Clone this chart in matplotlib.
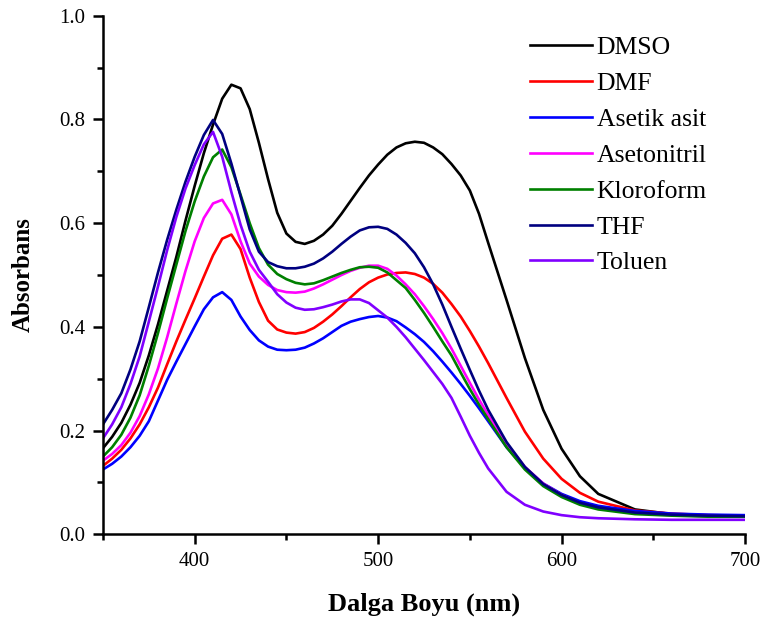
import matplotlib
matplotlib.use('Agg')
import matplotlib.pyplot as plt
from matplotlib.ticker import MultipleLocator, FormatStrFormatter

# Dalga boyu (nm)
dalga_boyu = [350, 355, 360, 365, 370, 375, 380, 385, 390, 395, 400, 405, 410, 415, 420, 425,
              430, 435, 440, 445, 450, 455, 460, 465, 470, 475, 480, 485, 490, 495, 500, 505,
              510, 515, 520, 525, 530, 535, 540, 545, 550, 555, 560, 570, 580, 590, 600, 610,
              620, 640, 660, 680, 700]

# Absorbans degerleri
dmso = [0.166, 0.188, 0.215, 0.250, 0.292, 0.345, 0.405, 0.470, 0.535, 0.605, 0.672, 0.735, 0.790,
        0.840, 0.867, 0.860, 0.820, 0.755, 0.685, 0.620, 0.580, 0.564, 0.560, 0.566, 0.578, 0.595,
        0.618, 0.643, 0.668, 0.692, 0.713, 0.732, 0.746, 0.754, 0.757, 0.755, 0.746, 0.733, 0.714,
        0.692, 0.663, 0.618, 0.562, 0.452, 0.340, 0.240, 0.165, 0.112, 0.078, 0.048, 0.039, 0.036,
        0.035]
dmf = [0.132, 0.146, 0.163, 0.185, 0.212, 0.245, 0.283, 0.328, 0.372, 0.414, 0.455, 0.497, 0.538,
       0.570, 0.578, 0.550, 0.495, 0.448, 0.412, 0.395, 0.389, 0.387, 0.390, 0.398, 0.410, 0.424,
       0.440, 0.457, 0.473, 0.486, 0.495, 0.501, 0.504, 0.505, 0.502, 0.495, 0.483, 0.466, 0.444,
       0.420, 0.392, 0.362, 0.330, 0.263, 0.198, 0.146, 0.107, 0.080, 0.063, 0.046, 0.040, 0.037,
       0.036]
asetik_asit = [0.125, 0.136, 0.150, 0.168, 0.190, 0.218, 0.258, 0.298, 0.333, 0.367, 0.401, 0.434,
               0.457, 0.467, 0.452, 0.420, 0.394, 0.374, 0.362, 0.356, 0.355, 0.356, 0.360, 0.368,
               0.378, 0.390, 0.402, 0.410, 0.415, 0.419, 0.421, 0.418, 0.411, 0.399, 0.386, 0.371,
               0.353, 0.333, 0.312, 0.290, 0.267, 0.243, 0.218, 0.168, 0.128, 0.098, 0.078, 0.064,
               0.055, 0.045, 0.040, 0.038, 0.037]
asetonitril = [0.142, 0.155, 0.172, 0.196, 0.228, 0.270, 0.320, 0.380, 0.445, 0.508, 0.565, 0.610,
               0.638, 0.645, 0.617, 0.565, 0.522, 0.497, 0.481, 0.471, 0.467, 0.466, 0.468, 0.474,
               0.482, 0.491, 0.500, 0.508, 0.514, 0.518, 0.518, 0.512, 0.499, 0.482, 0.463, 0.440,
               0.415, 0.388, 0.358, 0.325, 0.292, 0.260, 0.230, 0.175, 0.130, 0.098, 0.076, 0.060,
               0.050, 0.041, 0.037, 0.035, 0.034]
kloroform = [0.150, 0.168, 0.192, 0.225, 0.268, 0.325, 0.388, 0.455, 0.520, 0.585, 0.642, 0.690,
             0.727, 0.742, 0.708, 0.655, 0.600, 0.552, 0.520, 0.502, 0.492, 0.485, 0.482, 0.484,
             0.490, 0.497, 0.504, 0.510, 0.515, 0.516, 0.514, 0.505, 0.490, 0.475, 0.452, 0.427,
             0.400, 0.372, 0.345, 0.312, 0.280, 0.250, 0.222, 0.168, 0.125, 0.093, 0.072, 0.057,
             0.048, 0.039, 0.036, 0.034, 0.034]
thf = [0.212, 0.240, 0.272, 0.318, 0.372, 0.438, 0.505, 0.568, 0.626, 0.680, 0.728, 0.770, 0.799,
       0.772, 0.715, 0.652, 0.588, 0.545, 0.525, 0.517, 0.513, 0.513, 0.516, 0.522, 0.532, 0.545,
       0.560, 0.574, 0.586, 0.592, 0.593, 0.589, 0.578, 0.562, 0.542, 0.515, 0.482, 0.443, 0.400,
       0.358, 0.317, 0.277, 0.240, 0.178, 0.130, 0.097, 0.076, 0.061, 0.052, 0.042, 0.038, 0.036,
       0.035]
toluen = [0.185, 0.212, 0.245, 0.290, 0.343, 0.410, 0.478, 0.548, 0.612, 0.667, 0.712, 0.752, 0.776,
          0.728, 0.660, 0.597, 0.545, 0.510, 0.487, 0.463, 0.447, 0.437, 0.433, 0.434, 0.438, 0.443,
          0.449, 0.453, 0.453, 0.446, 0.432, 0.418, 0.400, 0.380, 0.358, 0.336, 0.313, 0.290, 0.263,
          0.227, 0.190, 0.157, 0.127, 0.082, 0.057, 0.044, 0.037, 0.033, 0.031, 0.029, 0.028, 0.028,
          0.028]

etiketler = ['DMSO', 'DMF', 'Asetik asit', 'Asetonitril', 'Kloroform', 'THF', 'Toluen']
renkler = ['#000000', '#FF0000', '#0000FF', '#FF00FF', '#008000', '#000080', '#8000FF']


def ciz():
    plt.rcParams['font.family'] = ['Liberation Serif', 'DejaVu Serif']

    fig = plt.figure(figsize=(7.61, 6.24), dpi=100)
    ax = fig.add_axes([0.1353, 0.1437, 0.8437, 0.8311])

    seriler = [dmso, dmf, asetik_asit, asetonitril, kloroform, thf, toluen]
    for y, etiket, renk in zip(seriler, etiketler, renkler):
        ax.plot(dalga_boyu, y, color=renk, lw=1.9, label=etiket, solid_joinstyle='round')

    ax.set_xlim(350, 700)
    ax.set_ylim(0, 1.0)
    ax.xaxis.set_major_locator(MultipleLocator(100))
    ax.xaxis.set_minor_locator(MultipleLocator(50))
    ax.yaxis.set_major_locator(MultipleLocator(0.2))
    ax.yaxis.set_minor_locator(MultipleLocator(0.1))
    ax.yaxis.set_major_formatter(FormatStrFormatter('%.1f'))  # 0.0, 0.2 ...

    # sadece sol ve alt eksen
    ax.spines['top'].set_visible(False)
    ax.spines['right'].set_visible(False)
    ax.spines['left'].set_linewidth(1.8)
    ax.spines['bottom'].set_linewidth(1.8)
    ax.tick_params(which='major', direction='out', length=7, width=1.8, labelsize=15, pad=6)
    ax.tick_params(which='minor', direction='out', length=4, width=1.8)

    ax.set_xlabel('Dalga Boyu (nm)', fontsize=19, fontweight='bold', labelpad=15)
    ax.set_ylabel('Absorbans', fontsize=18, fontweight='bold', labelpad=17)

    ax.legend(loc='upper left', bbox_to_anchor=(0.645, 0.985), frameon=False, fontsize=18.5,
              handlelength=2.4, handletextpad=0.2, labelspacing=0.5, borderpad=0)

    fig.savefig('out.png', dpi=100)


if __name__ == '__main__':
    ciz()
